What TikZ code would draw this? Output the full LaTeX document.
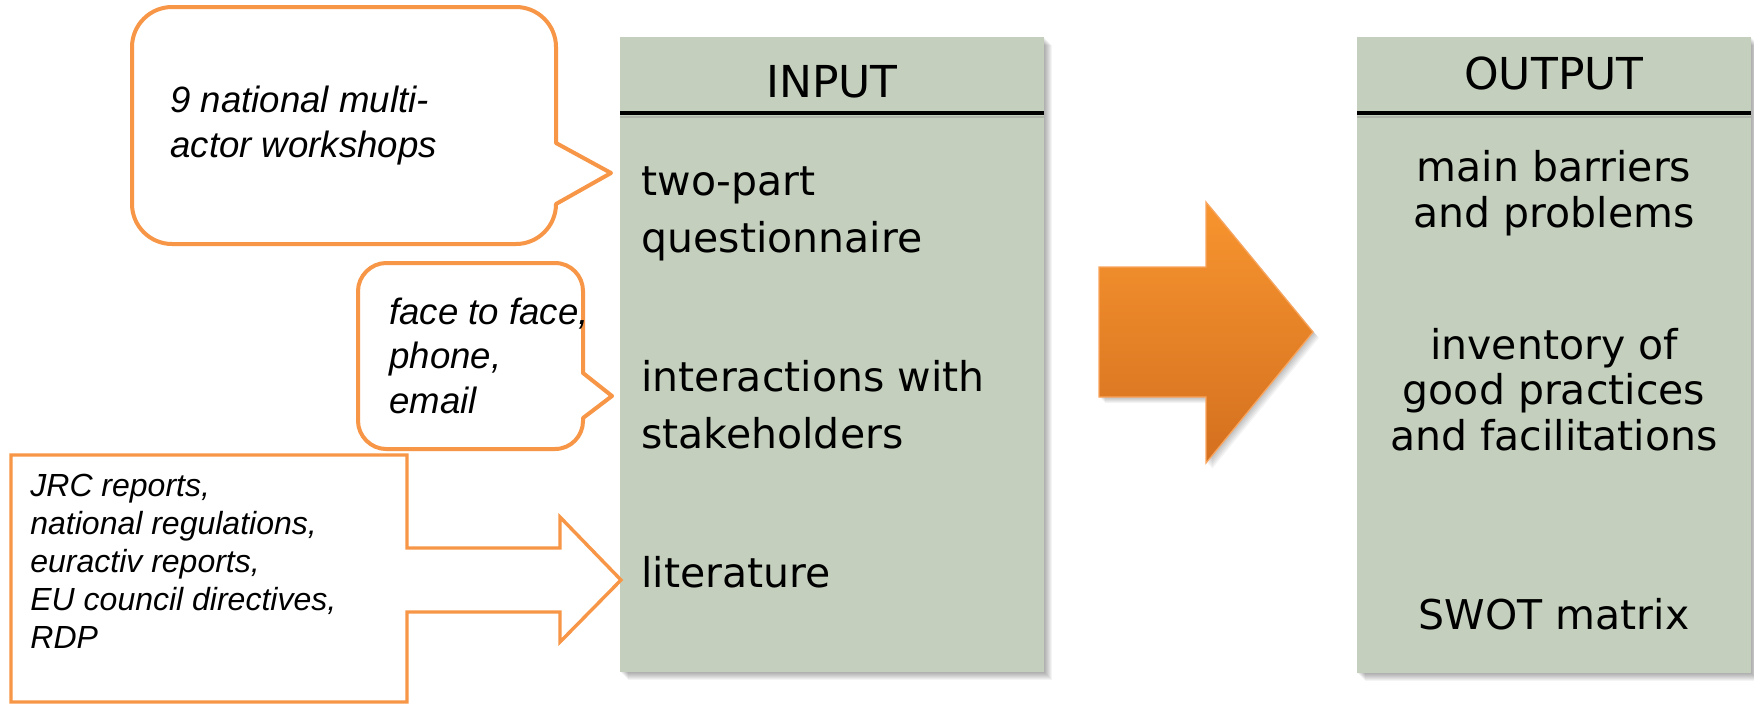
\documentclass[tikz,border=0pt]{standalone}
\usepackage{fontspec}
\newfontfamily\boxfont{DejaVu Sans}
\newfontfamily\notefont{Liberation Sans}
\definecolor{sage}{HTML}{C4D0BD}
\definecolor{calloutorange}{HTML}{F79646}
\definecolor{arrowtop}{HTML}{F8952F}
\definecolor{arrowbottom}{HTML}{D4701F}
\definecolor{arrowedge}{HTML}{F9A55E}

\begin{document}
\begin{tikzpicture}[x=0.5pt,y=-0.5pt,
  panel/.style={fill=sage},
  softshadow/.style={fill=black,opacity=0.045},
  headrule/.style={line width=2.4pt,black},
  headtext/.style={font=\boxfont\fontsize{22}{26}\selectfont,inner sep=0pt,anchor=base},
  itemleft/.style={font=\boxfont\fontsize{20.5}{28.25}\selectfont,align=left,inner sep=0pt,anchor=base west},
  itemcenter/.style={font=\boxfont\fontsize{20.5}{22.75}\selectfont,align=center,inner sep=0pt,anchor=base},
  callout/.style={draw=calloutorange,line width=2pt,fill=white,line join=round},
  litcallout/.style={draw=calloutorange,line width=1.7pt,fill=white,line join=miter},
  notetext/.style={font=\notefont\itshape\fontsize{18.3}{22.1}\selectfont,align=left,inner sep=0pt,anchor=base west},
  littext/.style={font=\notefont\itshape\fontsize{16}{18.9}\selectfont,align=left,inner sep=0pt,anchor=base west},
]
\useasboundingbox (0,0) rectangle (1754,703);
\fill[white] (0,0) rectangle (1754,703);

% Multi-line nodes are placed by the baseline of their last line.

% ---------- INPUT panel ----------
\foreach \d in {1,...,8}
  \fill[softshadow] (620+\d,37+\d) rectangle (1044+\d,672+\d);
\fill[panel] (620,37) rectangle (1044,672);
\draw[black!40,line width=1pt,opacity=0.5] (620,116.5) -- (1044,116.5);
\draw[headrule] (620,113) -- (1044,113);
\node[headtext] (inhead) at (832,97) {INPUT};
\node[itemleft] (in1) at (641,252) {two-part\\questionnaire};
\node[itemleft] (in2) at (641,448) {interactions with\\stakeholders};
\node[itemleft] (in3) at (641,587) {literature};

% ---------- OUTPUT panel ----------
\foreach \d in {1,...,8}
  \fill[softshadow] (1357+\d,37+\d) rectangle (1751+\d,673+\d);
\fill[panel] (1357,37) rectangle (1751,673);
\draw[black!40,line width=1pt,opacity=0.5] (1357,116.5) -- (1751,116.5);
\draw[headrule] (1357,113) -- (1751,113);
\node[headtext] (outhead) at (1554,89) {OUTPUT};
\node[itemcenter] (out1) at (1554,227) {main barriers\\and problems};
\node[itemcenter] (out2) at (1554,450) {inventory of\\good practices\\and facilitations};
\node[itemcenter] (out3) at (1554,629) {SWOT matrix};

% ---------- block arrow between the panels ----------
\def\bigarrowpath{(1099,267) -- (1206,267) -- (1206,202) -- (1313,332) -- (1206,463) -- (1206,397) -- (1099,397) -- cycle}
\foreach \d in {1,...,6}
  \fill[softshadow,shift={(\d,\d)}] \bigarrowpath;
\shade[top color=arrowtop,bottom color=arrowbottom] \bigarrowpath;
\draw[arrowedge,line width=0.6pt,line join=miter] \bigarrowpath;

% ---------- speech bubble: workshops ----------
\draw[callout] (556,204) -- (611,173) -- (556,143) -- (556,47)
  .. controls (556,25) and (538,7) .. (516,7) -- (172,7)
  .. controls (150,7) and (132,25) .. (132,47) -- (132,204)
  .. controls (132,226) and (150,244) .. (172,244) -- (516,244)
  .. controls (538,244) and (556,226) .. (556,204) -- cycle;
\node[notetext] (note1) at (170,157) {9 national multi-\\actor workshops};

% ---------- speech bubble: interactions ----------
\draw[callout] (583,418) -- (612,396) -- (583,373) -- (583,291)
  .. controls (583,276) and (571,263) .. (555,263) -- (386,263)
  .. controls (371,263) and (358,276) .. (358,291) -- (358,421)
  .. controls (358,436) and (371,449) .. (386,449) -- (555,449)
  .. controls (571,449) and (583,436) .. (583,421) -- cycle;
\node[notetext] (note2) at (389,413) {face to face,\\phone,\\email};

% ---------- arrow callout: literature sources ----------
\draw[litcallout] (11,455) -- (407,455) -- (407,548) -- (560,548) -- (560,517)
  -- (621,580) -- (560,642) -- (560,612) -- (407,612) -- (407,702) -- (11,702) -- cycle;
\node[littext] (note3) at (30,648) {JRC reports,\\national regulations,\\euractiv reports,\\EU council directives,\\RDP};

\end{tikzpicture}
\end{document}
